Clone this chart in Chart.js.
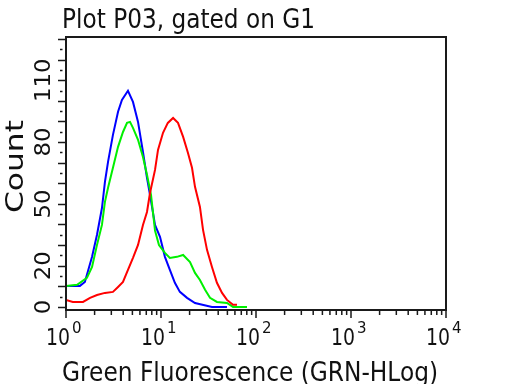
<!DOCTYPE html>
<html>
<head>
<meta charset="utf-8">
<script src="https://cdn.jsdelivr.net/npm/chart.js@4.4.1/dist/chart.umd.min.js"></script>
<style>
  html, body { margin: 0; padding: 0; background: #fff; }
</style>
</head>
<body>
<canvas id="chart" width="512" height="384"></canvas>
<script>
// Тексты
const titleText = 'Plot P03, gated on G1';
const xTitle = 'Green Fluorescence (GRN-HLog)';
const yTitle = 'Count';

// Деления осей
const xTickValues = [1, 10, 100, 1000, 10000];
const xTickExponents = ['0', '1', '2', '3', '4'];
const yTickValues = [0, 20, 50, 80, 110];
const yTickLabels = ['0', '20', '50', '80', '110'];

// Синяя гистограмма
const blueX = [1, 1, 1.40, 1.58, 1.88, 2.12, 2.39, 2.57, 2.77, 3.12, 3.53, 3.88, 4.49, 5.07, 5.73, 6.46, 7.12, 7.66, 8.65, 9.76, 11.0, 12.4, 14.0, 15.8, 18.8, 22.8, 34.4, 49.5];
const blueY = [0, 10.2, 10.2, 12.1, 24.3, 35, 48, 60.7, 70.4, 83.5, 94.7, 100.5, 104.9, 99.5, 89.8, 75.2, 62.6, 54.4, 39.8, 34, 24.3, 18, 11.7, 7.3, 4.4, 1.9, 0, 0];

// Зелёная гистограмма
const greenX = [1, 1.31, 1.66, 1.88, 2.12, 2.39, 2.57, 2.77, 3.12, 3.53, 3.98, 4.39, 4.72, 5.07, 5.73, 6.46, 7.12, 7.85, 8.65, 9.52, 11.0, 12.4, 14.7, 17.1, 20.2, 22.8, 25.7, 29.1, 32.8, 38.8, 49.5, 57.3, 80.4];
const greenY = [10.2, 10.7, 14.1, 19.4, 30.1, 39.8, 51, 57.8, 67.5, 77.7, 84.9, 89.3, 89.8, 86.9, 81.1, 72.8, 64.1, 54.4, 37, 30, 26.2, 23.8, 24.3, 25.2, 21.8, 16.5, 13.1, 8.3, 4.4, 2.4, 1.9, 0, 0];

// Красная гистограмма
const redX = [1, 1.18, 1.51, 1.79, 2.12, 2.57, 3.12, 3.53, 3.98, 4.49, 5.07, 5.73, 6.46, 7.12, 7.66, 8.65, 9.30, 10.5, 11.8, 13.4, 15.1, 17.1, 19.2, 21.2, 22.8, 25.7, 27.7, 30.5, 34.4, 38.8, 43.9, 49.5, 57.3, 63.1];
const redY = [3.4, 2.4, 2.4, 4.4, 5.8, 6.8, 7.3, 9.7, 12.1, 18, 23.8, 30.1, 39.8, 46.1, 55.3, 66.5, 76.2, 84.5, 89.3, 91.7, 89.3, 82.5, 74.8, 67.5, 58.3, 48.5, 37.4, 27.7, 19.4, 11.7, 6.8, 3.4, 1, 1];

const FONT = "'DejaVu Sans', sans-serif";
const INK = '#111';

function toPoints(xs, ys) {
    return xs.map((x, i) => ({ x: x, y: ys[i] }));
}

// Текст с растяжкой по длине строки
function drawText(ctx, text, x, y, size, sx, align, angle) {
    ctx.save();
    ctx.font = size + 'px ' + FONT;
    ctx.fillStyle = INK;
    ctx.textAlign = align;
    ctx.textBaseline = 'alphabetic';
    ctx.translate(x, y);
    ctx.rotate(angle || 0);
    ctx.scale(sx, 1);
    ctx.fillText(text, 0, 0);
    ctx.restore();
}

function fitScale(ctx, text, size, length) {
    ctx.font = size + 'px ' + FONT;
    return length / ctx.measureText(text).width;
}

// Рамка, засечки и подписи
const decor = {
    id: 'decor',
    afterDraw(chart) {
        const ctx = chart.ctx;
        const a = chart.chartArea;
        const xs = chart.scales.x;
        const ys = chart.scales.y;

        ctx.save();
        ctx.strokeStyle = '#1a1a1a';
        ctx.lineWidth = 2;
        ctx.strokeRect(a.left, a.top, a.right - a.left, a.bottom - a.top);

        // засечки по X
        ctx.lineWidth = 1.5;
        ctx.beginPath();
        xTickValues.forEach((d, i) => {
            const px = xs.getPixelForValue(d);
            ctx.moveTo(px, a.bottom);
            ctx.lineTo(px, a.bottom + 8);
            if (i === xTickValues.length - 1) return;
            for (let k = 2; k <= 9; k++) {
                const p = xs.getPixelForValue(k * d);
                ctx.moveTo(p, a.bottom);
                ctx.lineTo(p, a.bottom + 5);
            }
        });
        ctx.stroke();

        // засечки по Y
        ctx.beginPath();
        for (let v = 0; v <= ys.max; v += 5) {
            const py = Math.round(ys.getPixelForValue(v)) + 0.5;
            if (v % 10 === 0) {
                ctx.moveTo(a.left - 8, py);
                ctx.lineTo(a.left, py);
            } else {
                ctx.moveTo(a.left - 6, py);
                ctx.lineTo(a.left - 3.5, py);
            }
        }
        ctx.stroke();
        ctx.restore();

        // заголовок и подписи осей
        drawText(ctx, titleText, 62, 28, 26, fitScale(ctx, titleText, 26, 253), 'left');
        drawText(ctx, xTitle, 62, 381, 27, fitScale(ctx, xTitle, 27, 376), 'left');
        drawText(ctx, yTitle, 23, 166.5, 25, fitScale(ctx, yTitle, 25, 93), 'center', -Math.PI / 2);

        // подписи делений X: 10 со степенью
        const baseScale = fitScale(ctx, '10', 23, 24);
        xTickValues.forEach((d, i) => {
            const px = xs.getPixelForValue(d);
            drawText(ctx, '10', px - 20, 345, 23, baseScale, 'left');
            drawText(ctx, xTickExponents[i], px + 6, 333, 15, 1, 'left');
        });

        // подписи делений Y, повернуты
        yTickValues.forEach((v, i) => {
            const py = ys.getPixelForValue(v);
            const label = yTickLabels[i];
            const s = fitScale(ctx, label, 20.5, label.length * 14.5);
            drawText(ctx, label, 50, py, 20.5, s, 'center', -Math.PI / 2);
        });
    }
};

new Chart(document.getElementById('chart'), {
    type: 'line',
    data: {
        datasets: [
            { label: 'red', data: toPoints(redX, redY), borderColor: '#ff0000' },
            { label: 'green', data: toPoints(greenX, greenY), borderColor: '#00f000' },
            { label: 'blue', data: toPoints(blueX, blueY), borderColor: '#0000ff' }
        ]
    },
    options: {
        responsive: false,
        animation: false,
        layout: { padding: { top: 37, right: 66, left: 0, bottom: 0 } },
        plugins: {
            legend: { display: false },
            tooltip: { enabled: false },
            title: { display: false }
        },
        elements: {
            point: { radius: 0 },
            line: { borderWidth: 2, tension: 0 }
        },
        scales: {
            x: {
                type: 'logarithmic',
                min: 1,
                max: 10000,
                ticks: { display: false },
                grid: { display: false },
                border: { display: false },
                afterFit(scale) { scale.height = 74; }
            },
            y: {
                type: 'linear',
                min: -1.5,
                max: 131,
                ticks: { display: false },
                grid: { display: false },
                border: { display: false },
                afterFit(scale) { scale.width = 66; }
            }
        }
    },
    plugins: [decor]
});
</script>
</body>
</html>
